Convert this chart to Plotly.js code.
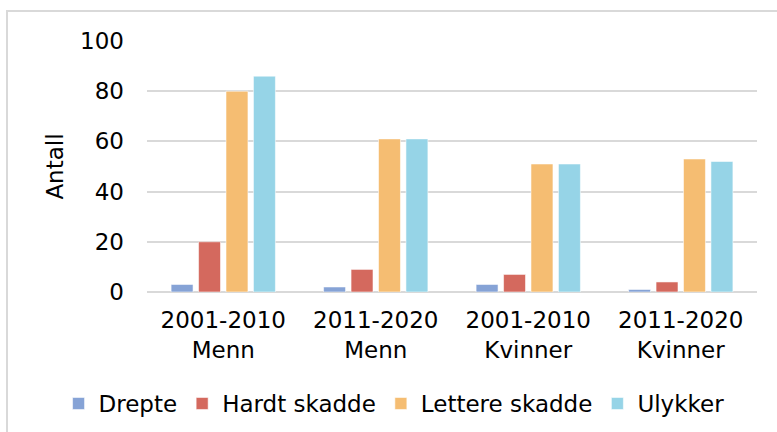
<!DOCTYPE html>
<html>
<head>
<meta charset="utf-8">
<script src="https://cdn.plot.ly/plotly-3.0.1.min.js"></script>
<style>
  html, body { margin: 0; padding: 0; background: #fff; }
  #chart { width: 777px; height: 432px; }
</style>
</head>
<body>
<div id="chart"></div>
<script>
// categories (two-line labels) and series values
const CATEGORIES = [ '2001-2010<br>Menn', '2011-2020<br>Menn', '2001-2010<br>Kvinner', '2011-2020<br>Kvinner' ];
const SERIES     = [ 'Drepte', 'Hardt skadde', 'Lettere skadde', 'Ulykker' ];
const DREPTE     = [ 3, 2, 3, 1 ];
const HARDT      = [ 20, 9, 7, 4 ];
const LETTERE    = [ 80, 61, 51, 53 ];
const ULYKKER    = [ 86, 61, 51, 52 ];
const Y_TICKS    = [ 0, 20, 40, 60, 80, 100 ];

const COLORS    = [ '#86a3d6', '#d4695e', '#f5bd72', '#96d4e7' ];
const FONT      = 'DejaVu Sans, Verdana, sans-serif';
const FONT_SIZE = 23;
const GRID      = '#d9d9d9';

function make_trace( name, values, color ) {
	return {
		type  : 'bar',
		name  : name,
		x     : CATEGORIES,
		y     : values,
		marker: { color: color, line: { color: 'rgba(255,255,255,0.55)', width: 1 } },
		hoverinfo: 'x+y+name'
	};
}

const traces = [
	make_trace( SERIES[ 0 ], DREPTE,  COLORS[ 0 ] ),
	make_trace( SERIES[ 1 ], HARDT,   COLORS[ 1 ] ),
	make_trace( SERIES[ 2 ], LETTERE, COLORS[ 2 ] ),
	make_trace( SERIES[ 3 ], ULYKKER, COLORS[ 3 ] )
];

const text_font = { family: FONT, size: FONT_SIZE, color: '#000' };

const layout = {
	width        : 777,
	height       : 432,
	margin       : { l: 147, r: 20, t: 41, b: 140, pad: 0, autoexpand: false },
	paper_bgcolor: '#ffffff',
	plot_bgcolor : '#ffffff',
	font         : text_font,
	barmode      : 'group',
	bargap       : 0.28,
	bargroupgap  : 0.2,
	xaxis        : {
		showgrid : false,
		showline : false,
		ticks    : '',
		automargin: false,
		ticklabelstandoff: 12,
		tickfont : text_font,
		fixedrange: true
	},
	yaxis        : {
		range    : [ 0, 100 ],
		autorange: false,
		tickmode : 'array',
		tickvals : Y_TICKS,
		ticktext : Y_TICKS.map( String ),
		showgrid : true,
		gridcolor: GRID,
		gridwidth: 2,
		zeroline : true,
		zerolinecolor: GRID,
		zerolinewidth: 2,
		showline : false,
		ticks    : '',
		automargin: false,
		ticklabelstandoff: 22,
		tickfont : text_font,
		title    : { text: 'Antall', font: text_font, standoff: 10 },
		fixedrange: true
	},
	showlegend   : true,
	legend       : {
		orientation: 'h',
		x          : -0.145,
		xanchor    : 'left',
		y          : -0.53,
		yanchor    : 'bottom',
		font       : text_font,
		itemwidth  : 30,
		tracegroupgap: 0,
		bgcolor    : 'rgba(0,0,0,0)'
	},
	shapes       : [ {
		type : 'rect',
		xref : 'paper', yref: 'paper',
		x0   : -0.2295, x1: 1.05,
		y0   : -0.6,    y1: 1.1195,
		line : { color: '#d9d9d9', width: 2 },
		fillcolor: 'rgba(0,0,0,0)',
		layer: 'below'
	} ]
};

Plotly.newPlot( 'chart', traces, layout, { displayModeBar: false, staticPlot: true } );
</script>
</body>
</html>
